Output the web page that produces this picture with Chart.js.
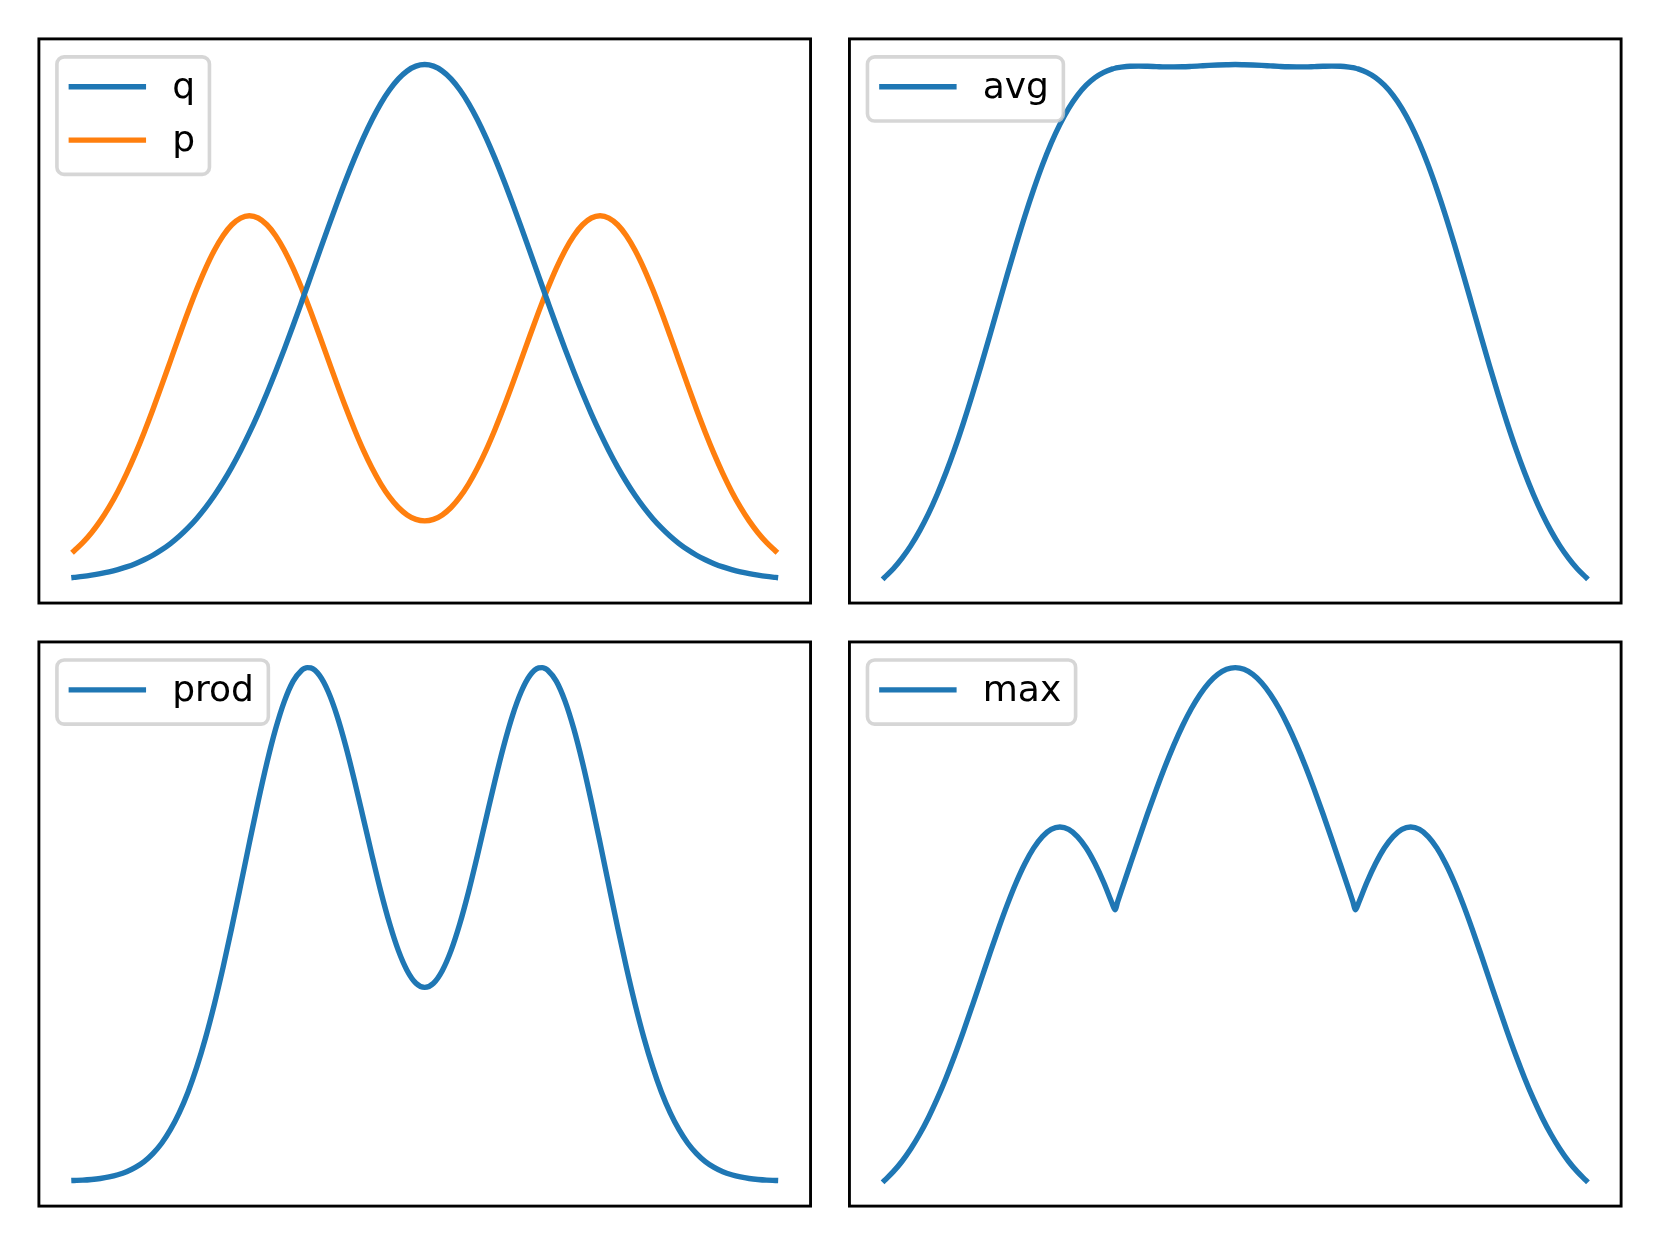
<!DOCTYPE html>
<html>
<head>
<meta charset="utf-8">
<script src="https://cdn.jsdelivr.net/npm/chart.js@4.4.1/dist/chart.umd.min.js"></script>
<style>
  html, body { margin: 0; padding: 0; background: #fff; }
  #wrap { position: relative; width: 1660px; height: 1245px; overflow: hidden; }
  #wrap canvas { position: absolute; left: 0; top: 0; }
</style>
</head>
<body>
<div id="wrap">
  <canvas id="c1" width="1660" height="1245"></canvas>
  <canvas id="c2" width="1660" height="1245"></canvas>
  <canvas id="c3" width="1660" height="1245"></canvas>
  <canvas id="c4" width="1660" height="1245"></canvas>
</div>
<script>
// x positions (shared by every curve)
var xs = [-1, -0.975, -0.95, -0.925, -0.9, -0.875, -0.85, -0.825, -0.8, -0.775, -0.75, -0.725, -0.7, -0.675,
  -0.65, -0.625, -0.6, -0.575, -0.55, -0.525, -0.5, -0.475, -0.45, -0.425, -0.4, -0.375, -0.35, -0.343,
  -0.335, -0.325, -0.3, -0.275, -0.25, -0.225, -0.2, -0.175, -0.15, -0.125, -0.1, -0.075, -0.05, -0.025,
  0,
  0.025, 0.05, 0.075, 0.1, 0.125, 0.15, 0.175, 0.2, 0.225, 0.25, 0.275, 0.3, 0.325, 0.335,
  0.343, 0.35, 0.375, 0.4, 0.425, 0.45, 0.475, 0.5, 0.525, 0.55, 0.575, 0.6, 0.625, 0.65,
  0.675, 0.7, 0.725, 0.75, 0.775, 0.8, 0.825, 0.85, 0.875, 0.9, 0.925, 0.95, 0.975, 1];

var qVals = [0.0067, 0.0086, 0.0110, 0.0139, 0.0174, 0.0218, 0.0270, 0.0333, 0.0408, 0.0496, 0.0601, 0.0722, 0.0863, 0.1025,
  0.1209, 0.1418, 0.1653, 0.1915, 0.2204, 0.2521, 0.2865, 0.3236, 0.3633, 0.4053, 0.4493, 0.4950, 0.5420, 0.5553,
  0.5706, 0.5897, 0.6376, 0.6851, 0.7316, 0.7764, 0.8187, 0.8580, 0.8936, 0.9249, 0.9512, 0.9723, 0.9876, 0.9969,
  1.0000,
  0.9969, 0.9876, 0.9723, 0.9512, 0.9249, 0.8936, 0.8580, 0.8187, 0.7764, 0.7316, 0.6851, 0.6376, 0.5897, 0.5706,
  0.5553, 0.5420, 0.4950, 0.4493, 0.4053, 0.3633, 0.3236, 0.2865, 0.2521, 0.2204, 0.1915, 0.1653, 0.1418, 0.1209,
  0.1025, 0.0863, 0.0722, 0.0601, 0.0496, 0.0408, 0.0333, 0.0270, 0.0218, 0.0174, 0.0139, 0.0110, 0.0086, 0.0067];

var pVals = [0.0580, 0.0741, 0.0933, 0.1162, 0.1428, 0.1733, 0.2077, 0.2459, 0.2875, 0.3319, 0.3785, 0.4262, 0.4740, 0.5206,
  0.5646, 0.6048, 0.6398, 0.6684, 0.6897, 0.7027, 0.7071, 0.7028, 0.6897, 0.6686, 0.6400, 0.6052, 0.5652, 0.5532,
  0.5392, 0.5214, 0.4752, 0.4280, 0.3810, 0.3356, 0.2928, 0.2533, 0.2181, 0.1875, 0.1621, 0.1421, 0.1277, 0.1190,
  0.1161,
  0.1190, 0.1277, 0.1421, 0.1621, 0.1875, 0.2181, 0.2533, 0.2928, 0.3356, 0.3810, 0.4280, 0.4752, 0.5214, 0.5392,
  0.5532, 0.5652, 0.6052, 0.6400, 0.6686, 0.6897, 0.7028, 0.7071, 0.7027, 0.6897, 0.6684, 0.6398, 0.6048, 0.5646,
  0.5206, 0.4740, 0.4262, 0.3785, 0.3319, 0.2875, 0.2459, 0.2077, 0.1733, 0.1428, 0.1162, 0.0933, 0.0741, 0.0580];

var avgVals = [0.0324, 0.0413, 0.0522, 0.0650, 0.0801, 0.0975, 0.1174, 0.1396, 0.1641, 0.1908, 0.2193, 0.2492, 0.2801, 0.3115,
  0.3428, 0.3733, 0.4026, 0.4299, 0.4550, 0.4774, 0.4968, 0.5132, 0.5265, 0.5369, 0.5447, 0.5501, 0.5536, 0.5543,
  0.5549, 0.5555, 0.5564, 0.5565, 0.5563, 0.5560, 0.5557, 0.5557, 0.5558, 0.5562, 0.5567, 0.5572, 0.5576, 0.5579,
  0.5581,
  0.5579, 0.5576, 0.5572, 0.5567, 0.5562, 0.5558, 0.5557, 0.5557, 0.5560, 0.5563, 0.5565, 0.5564, 0.5555, 0.5549,
  0.5543, 0.5536, 0.5501, 0.5447, 0.5369, 0.5265, 0.5132, 0.4968, 0.4774, 0.4550, 0.4299, 0.4026, 0.3733, 0.3428,
  0.3115, 0.2801, 0.2492, 0.2193, 0.1908, 0.1641, 0.1396, 0.1174, 0.0975, 0.0801, 0.0650, 0.0522, 0.0413, 0.0324];

var prodVals = [0.0004, 0.0006, 0.0010, 0.0016, 0.0025, 0.0038, 0.0056, 0.0082, 0.0117, 0.0165, 0.0227, 0.0308, 0.0409, 0.0533,
  0.0683, 0.0858, 0.1058, 0.1280, 0.1520, 0.1771, 0.2026, 0.2274, 0.2506, 0.2710, 0.2876, 0.2996, 0.3063, 0.3072,
  0.3077, 0.3075, 0.3030, 0.2932, 0.2788, 0.2606, 0.2397, 0.2174, 0.1949, 0.1734, 0.1542, 0.1381, 0.1261, 0.1186,
  0.1161,
  0.1186, 0.1261, 0.1381, 0.1542, 0.1734, 0.1949, 0.2174, 0.2397, 0.2606, 0.2788, 0.2932, 0.3030, 0.3075, 0.3077,
  0.3072, 0.3063, 0.2996, 0.2876, 0.2710, 0.2506, 0.2274, 0.2026, 0.1771, 0.1520, 0.1280, 0.1058, 0.0858, 0.0683,
  0.0533, 0.0409, 0.0308, 0.0227, 0.0165, 0.0117, 0.0082, 0.0056, 0.0038, 0.0025, 0.0016, 0.0010, 0.0006, 0.0004];

var maxVals = [0.0580, 0.0741, 0.0933, 0.1162, 0.1428, 0.1733, 0.2077, 0.2459, 0.2875, 0.3319, 0.3785, 0.4262, 0.4740, 0.5206,
  0.5646, 0.6048, 0.6398, 0.6684, 0.6897, 0.7027, 0.7071, 0.7028, 0.6897, 0.6686, 0.6400, 0.6052, 0.5652, 0.5553,
  0.5706, 0.5897, 0.6376, 0.6851, 0.7316, 0.7764, 0.8187, 0.8580, 0.8936, 0.9249, 0.9512, 0.9723, 0.9876, 0.9969,
  1.0000,
  0.9969, 0.9876, 0.9723, 0.9512, 0.9249, 0.8936, 0.8580, 0.8187, 0.7764, 0.7316, 0.6851, 0.6376, 0.5897, 0.5706,
  0.5553, 0.5652, 0.6052, 0.6400, 0.6686, 0.6897, 0.7028, 0.7071, 0.7027, 0.6897, 0.6684, 0.6398, 0.6048, 0.5646,
  0.5206, 0.4740, 0.4262, 0.3785, 0.3319, 0.2875, 0.2459, 0.2077, 0.1733, 0.1428, 0.1162, 0.0933, 0.0741, 0.0580];

var BLUE = '#1f77b4';
var ORANGE = '#ff7f0e';

var W = 1660, H = 1245;
var FS = 36.02;          // legend font size (px)
var LINE_W = 5.4;
var FRAME_W = 2.88;

// axes boxes: left, top, right, bottom
var PANELS = [
  { id: 'c1', box: [38.9, 38.9, 810.55, 603.05], series: [['q', qVals, BLUE], ['p', pVals, ORANGE]] },
  { id: 'c2', box: [849.45, 38.9, 1621.1, 603.05], series: [['avg', avgVals, BLUE]] },
  { id: 'c3', box: [38.9, 641.95, 810.55, 1206.1], series: [['prod', prodVals, BLUE]] },
  { id: 'c4', box: [849.45, 641.95, 1621.1, 1206.1], series: [['max', maxVals, BLUE]] }
];

function roundRectPath(ctx, x, y, w, h, r) {
  ctx.beginPath();
  ctx.moveTo(x + r, y);
  ctx.lineTo(x + w - r, y);
  ctx.arcTo(x + w, y, x + w, y + r, r);
  ctx.lineTo(x + w, y + h - r);
  ctx.arcTo(x + w, y + h, x + w - r, y + h, r);
  ctx.lineTo(x + r, y + h);
  ctx.arcTo(x, y + h, x, y + h - r, r);
  ctx.lineTo(x, y + r);
  ctx.arcTo(x, y, x + r, y, r);
  ctx.closePath();
}

// axes frame + matplotlib style legend in the upper left corner
var framePlugin = {
  id: 'frameAndLegend',
  afterDraw: function(chart) {
    var a = chart.chartArea;
    var ctx = chart.ctx;
    ctx.save();
    ctx.strokeStyle = '#000';
    ctx.lineWidth = FRAME_W;
    ctx.lineJoin = 'miter';
    ctx.strokeRect(a.left, a.top, a.right - a.left, a.bottom - a.top);

    var sets = chart.data.datasets;
    ctx.font = FS + 'px "DejaVu Sans"';
    var textW = 0;
    sets.forEach(function(d) { textW = Math.max(textW, ctx.measureText(d.label).width); });
    var pad = 0.4 * FS, handle = 2.0 * FS, gap = 0.8 * FS, rowH = 0.98 * FS, spacing = 0.5 * FS;
    var bx = a.left + 0.5 * FS, by = a.top + 0.5 * FS;
    var bw = 2 * pad + handle + gap + textW;
    var bh = 2 * pad + sets.length * rowH + (sets.length - 1) * spacing;

    roundRectPath(ctx, bx, by, bw, bh, 0.2 * FS);
    ctx.fillStyle = 'rgba(255,255,255,0.8)';
    ctx.fill();
    ctx.lineWidth = 3.6;
    ctx.strokeStyle = 'rgba(204,204,204,0.8)';
    ctx.stroke();

    sets.forEach(function(d, i) {
      var rowTop = by + pad + i * (rowH + spacing);
      ctx.beginPath();
      ctx.lineCap = 'square';
      ctx.lineWidth = LINE_W;
      ctx.strokeStyle = d.borderColor;
      ctx.moveTo(bx + pad, rowTop + 15.5);
      ctx.lineTo(bx + pad + handle, rowTop + 15.5);
      ctx.stroke();
      ctx.fillStyle = '#000';
      ctx.textBaseline = 'alphabetic';
      ctx.textAlign = 'left';
      ctx.fillText(d.label, bx + pad + handle + gap, rowTop + 26.5);
    });
    ctx.restore();
  }
};

function drawPanel(panel) {
  var lo = Infinity, hi = -Infinity;
  var datasets = panel.series.map(function(s) {
    s[1].forEach(function(v) { lo = Math.min(lo, v); hi = Math.max(hi, v); });
    return {
      label: s[0],
      data: xs.map(function(x, i) { return { x: x, y: s[1][i] }; }),
      borderColor: s[2],
      borderWidth: LINE_W,
      borderCapStyle: 'square',
      borderJoinStyle: 'round',
      pointRadius: 0,
      fill: false,
      cubicInterpolationMode: 'monotone'
    };
  });
  var span = hi - lo;
  var xSpan = xs[xs.length - 1] - xs[0];
  var b = panel.box;

  new Chart(document.getElementById(panel.id), {
    type: 'line',
    data: { datasets: datasets },
    options: {
      responsive: false,
      animation: false,
      devicePixelRatio: 1,
      events: [],
      layout: { padding: { left: b[0], top: b[1], right: W - b[2], bottom: H - b[3] } },
      plugins: { legend: { display: false }, tooltip: { enabled: false } },
      scales: {
        x: { type: 'linear', display: false, bounds: 'data',
             min: xs[0] - 0.05 * xSpan, max: xs[xs.length - 1] + 0.05 * xSpan },
        y: { type: 'linear', display: false, bounds: 'data',
             min: lo - 0.05 * span, max: hi + 0.05 * span }
      }
    },
    plugins: [framePlugin]
  });
}

PANELS.forEach(drawPanel);
</script>
</body>
</html>
